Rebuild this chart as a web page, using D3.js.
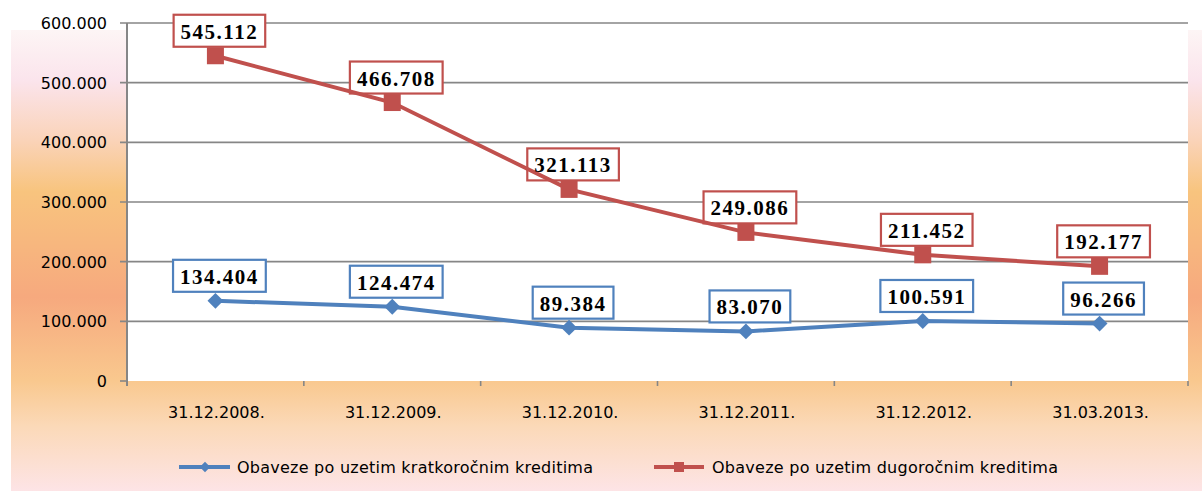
<!DOCTYPE html>
<html>
<head>
<meta charset="utf-8">
<script src="https://cdn.jsdelivr.net/npm/d3@7"></script>
<style>
  body { margin: 0; background: #fff; }
  svg { display: block; }
</style>
</head>
<body>
<div id="chart"></div>
<script>
// chart values
var categories = ["31.12.2008.", "31.12.2009.", "31.12.2010.", "31.12.2011.", "31.12.2012.", "31.03.2013."];
var kratkorocni = [134404, 124474, 89384, 83070, 100591, 96266];
var dugorocni = [545112, 466708, 321113, 249086, 211452, 192177];
var yTicks = [0, 100000, 200000, 300000, 400000, 500000, 600000];
var seriesNames = ["Obaveze po uzetim kratkoročnim kreditima", "Obaveze po uzetim dugoročnim kreditima"];

var width = 1202,
    height = 491;

var blue = "#4f81bd",
    red = "#c0504d",
    grid = "#868686";

var locale = d3.formatLocale({decimal: ",", thousands: ".", grouping: [3], currency: ["", ""]});
var fmt = locale.format(",");

var x = d3.scaleBand()
  .domain(categories)
  .range([127, 1188]);

var y = d3.scaleLinear()
  .domain([0, 600000])
  .range([381, 23]);

var svg = d3.select("#chart")
  .append("svg")
  .attr("width", width)
  .attr("height", height);

// background gradient panel
var grad = svg.append("defs")
  .append("linearGradient")
  .attr("id", "bg")
  .attr("x1", "0%").attr("y1", "0%")
  .attr("x2", "0%").attr("y2", "100%");

[[0, "#fdf5f5"], [0.11, "#fbe4ec"], [0.24, "#fad3b8"], [0.35, "#f8c47e"],
 [0.58, "#f6a97e"], [0.76, "#f9c88e"], [0.86, "#fbd9b8"], [1, "#fde4e6"]]
  .forEach(function(s) {
    grad.append("stop").attr("offset", s[0]).attr("stop-color", s[1]);
  });

svg.append("rect")
  .attr("x", 11).attr("y", 30)
  .attr("width", width - 11).attr("height", height - 30)
  .style("fill", "url(#bg)");

// white plot area
svg.append("rect")
  .attr("x", x.range()[0]).attr("y", y(600000))
  .attr("width", x.range()[1] - x.range()[0])
  .attr("height", y(0) - y(600000))
  .style("fill", "#fff");

// gridlines + y ticks
svg.append("g")
  .selectAll("line")
  .data(yTicks.filter(function(d) { return d > 0; }))
  .enter()
  .append("line")
  .attr("x1", 120).attr("x2", x.range()[1])
  .attr("y1", function(d) { return y(d); })
  .attr("y2", function(d) { return y(d); })
  .style("stroke", grid)
  .style("stroke-width", 1.6);

svg.append("line")
  .attr("x1", 120).attr("x2", 127)
  .attr("y1", y(0)).attr("y2", y(0))
  .style("stroke", grid).style("stroke-width", 1.6);

// y axis line
svg.append("line")
  .attr("x1", 127).attr("x2", 127)
  .attr("y1", y(600000)).attr("y2", y(0) + 5)
  .style("stroke", grid).style("stroke-width", 2);

// x ticks
var xEdges = categories.map(function(c) { return x(c); }).concat([x.range()[1]]);
svg.append("g")
  .selectAll("line")
  .data(xEdges)
  .enter()
  .append("line")
  .attr("x1", function(d) { return d; }).attr("x2", function(d) { return d; })
  .attr("y1", y(0)).attr("y2", y(0) + 5)
  .style("stroke", grid).style("stroke-width", 1.6);

svg.append("g")
  .selectAll("text")
  .data(yTicks)
  .enter()
  .append("text")
  .attr("x", 107)
  .attr("y", function(d) { return y(d) + 6; })
  .attr("text-anchor", "end")
  .style("font-family", "DejaVu Sans, Verdana, sans-serif")
  .style("font-size", "16px")
  .style("fill", "#000")
  .text(function(d) { return fmt(d); });

svg.append("g")
  .selectAll("text")
  .data(categories)
  .enter()
  .append("text")
  .attr("x", function(d) { return x(d) + x.bandwidth() / 2 + 1; })
  .attr("y", 418)
  .attr("text-anchor", "middle")
  .style("font-family", "DejaVu Sans, Verdana, sans-serif")
  .style("font-size", "16px")
  .style("fill", "#000")
  .text(function(d) { return d; });

function cx(i) { return x(categories[i]) + x.bandwidth() / 2; }

// data label boxes (drawn under the lines)
function labelPoints(values, color) {
  return values.map(function(v, i) {
    return {v: v, px: cx(i), py: y(v), color: color};
  });
}
var labels = labelPoints(kratkorocni, blue).concat(labelPoints(dugorocni, red));

var labelG = svg.append("g");
var labelTexts = svg.append("g");

var texts = labelTexts.selectAll("text")
  .data(labels)
  .enter()
  .append("text")
  .attr("x", function(d) { return d.px + 4; })
  .attr("y", function(d) { return d.py - 17; })
  .attr("text-anchor", "middle")
  .style("font-family", "Liberation Serif, Times New Roman, serif")
  .style("font-weight", "bold")
  .style("font-size", "21px")
  .style("letter-spacing", "1.5px")
  .style("fill", "#000")
  .text(function(d) { return fmt(d.v); });

texts.each(function(d) {
  var w = this.getComputedTextLength();
  labelG.append("rect")
    .attr("x", d.px + 4 - w / 2 - 7)
    .attr("y", d.py - 9 - 32)
    .attr("width", w + 14)
    .attr("height", 32)
    .style("fill", "#fff")
    .style("stroke", d.color)
    .style("stroke-width", 2.2);
});

// series lines
var line = d3.line()
  .x(function(d, i) { return cx(i); })
  .y(function(d) { return y(d); });

var seriesG = svg.insert("g", function() { return labelTexts.node(); });

seriesG.append("path")
  .datum(dugorocni)
  .attr("d", line)
  .style("fill", "none")
  .style("stroke", red)
  .style("stroke-width", 4);

seriesG.append("path")
  .datum(kratkorocni)
  .attr("d", line)
  .style("fill", "none")
  .style("stroke", blue)
  .style("stroke-width", 4);

seriesG.selectAll(".sq")
  .data(dugorocni)
  .enter()
  .append("rect")
  .attr("class", "sq")
  .attr("x", function(d, i) { return cx(i) - 8.5; })
  .attr("y", function(d) { return y(d) - 8.5; })
  .attr("width", 17).attr("height", 17)
  .style("fill", red);

var diamond = d3.symbol().type(d3.symbolDiamond2).size(160);
seriesG.selectAll(".dm")
  .data(kratkorocni)
  .enter()
  .append("path")
  .attr("class", "dm")
  .attr("d", diamond)
  .attr("transform", function(d, i) { return "translate(" + cx(i) + "," + y(d) + ")"; })
  .style("fill", blue);

// legend
var legend = svg.append("g");

legend.append("line")
  .attr("x1", 179).attr("x2", 230).attr("y1", 467).attr("y2", 467)
  .style("stroke", blue).style("stroke-width", 4);
legend.append("path")
  .attr("d", d3.symbol().type(d3.symbolDiamond2).size(70))
  .attr("transform", "translate(205,467)")
  .style("fill", blue);
legend.append("text")
  .attr("x", 237).attr("y", 473)
  .attr("textLength", 356)
  .style("font-family", "DejaVu Sans, Verdana, sans-serif")
  .style("font-size", "16px")
  .style("fill", "#000")
  .text(seriesNames[0]);

legend.append("line")
  .attr("x1", 654).attr("x2", 704).attr("y1", 467).attr("y2", 467)
  .style("stroke", red).style("stroke-width", 4);
legend.append("rect")
  .attr("x", 674).attr("y", 462).attr("width", 10).attr("height", 10)
  .style("fill", red);
legend.append("text")
  .attr("x", 712).attr("y", 473)
  .attr("textLength", 346)
  .style("font-family", "DejaVu Sans, Verdana, sans-serif")
  .style("font-size", "16px")
  .style("fill", "#000")
  .text(seriesNames[1]);
</script>
</body>
</html>
